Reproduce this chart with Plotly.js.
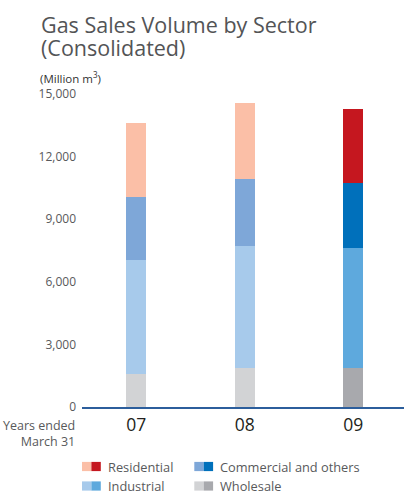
<!DOCTYPE html>
<html>
<head>
<meta charset="utf-8">
<script src="https://cdn.plot.ly/plotly-3.0.1.min.js"></script>
<style>
  html, body { margin: 0; padding: 0; background: #ffffff; }
  #chart { width: 404px; height: 492px; }
</style>
</head>
<body>
<div id="chart"></div>
<script>
// Gas sales volume by sector, million m3, fiscal years ended March 31
const years = ['07', '08', '09'];
const wholesale   = [1590, 1880, 1880];
const industrial  = [5460, 5840, 5740];
const commercial  = [3010, 3200, 3110];
const residential = [3540, 3640, 3540];

// light shade for earlier years, strong shade for the latest year
const lightColors = { Residential: '#FBBFA7', 'Commercial and others': '#7EA7D8', Industrial: '#A7CAEB', Wholesale: '#D2D3D5' };
const darkColors  = { Residential: '#C5171F', 'Commercial and others': '#0070BB', Industrial: '#5EA9DD', Wholesale: '#A8A9AD' };

const yTicks = [0, 3000, 6000, 9000, 12000, 15000];

const FONT = '"Open Sans", "Noto Sans", sans-serif';
const GREY = '#58595B';

// plot area in pixels
const L = 82, R = 0, T = 94, B = 85, W = 404, H = 492;
const PW = W - L - R, PH = H - T - B;
const px = x => (x - L) / PW;
const py = y => (H - B - y) / PH;

function colorsFor(name) {
  return years.map((y, i) => (i === years.length - 1 ? darkColors[name] : lightColors[name]));
}

function barTrace(name, values) {
  return {
    type: 'bar',
    name: name,
    x: years,
    y: values,
    width: 0.184,
    marker: { color: colorsFor(name), line: { width: 0 } },
    hoverinfo: 'skip',
    showlegend: false
  };
}

const traces = [
  barTrace('Wholesale', wholesale),
  barTrace('Industrial', industrial),
  barTrace('Commercial and others', commercial),
  barTrace('Residential', residential)
];

// two-tone legend swatches drawn as shapes, labels as annotations
const legendItems = [
  { name: 'Residential', x: 82, y: 466.5 },
  { name: 'Commercial and others', x: 194.3, y: 466.5 },
  { name: 'Industrial', x: 82, y: 486 },
  { name: 'Wholesale', x: 194.3, y: 486 }
];
const shapes = [];
const annotations = [];
legendItems.forEach(it => {
  const s = 9.4, h = 9.2;
  shapes.push({ type: 'rect', xref: 'paper', yref: 'paper',
    x0: px(it.x), x1: px(it.x + s), y0: py(it.y + h / 2), y1: py(it.y - h / 2),
    fillcolor: lightColors[it.name], line: { width: 0 } });
  shapes.push({ type: 'rect', xref: 'paper', yref: 'paper',
    x0: px(it.x + s), x1: px(it.x + 2 * s), y0: py(it.y + h / 2), y1: py(it.y - h / 2),
    fillcolor: darkColors[it.name], line: { width: 0 } });
  annotations.push({ xref: 'paper', yref: 'paper', x: px(it.x + 2 * s + 5), y: py(it.y),
    xanchor: 'left', yanchor: 'middle', showarrow: false, text: it.name,
    font: { family: FONT, size: 12.8, color: GREY } });
});

// title lines, unit label and x-axis caption
annotations.push(
  { xref: 'paper', yref: 'paper', x: px(39), y: py(24.5), xanchor: 'left', yanchor: 'middle',
    showarrow: false, text: 'Gas Sales Volume by Sector', font: { family: FONT, size: 21.5, color: '#535456' } },
  { xref: 'paper', yref: 'paper', x: px(39), y: py(47.5), xanchor: 'left', yanchor: 'middle',
    showarrow: false, text: '(Consolidated)', font: { family: FONT, size: 21.5, color: '#535456' } },
  { xref: 'paper', yref: 'paper', x: px(38), y: py(77), xanchor: 'left', yanchor: 'middle',
    showarrow: false, text: '(Million m<sup>3</sup>)', font: { family: FONT, size: 11.5, color: '#333333' } },
  { xref: 'paper', yref: 'paper', x: px(77), y: py(433.5), xanchor: 'right', yanchor: 'middle', align: 'right',
    showarrow: false, text: 'Years ended<br>March 31', font: { family: FONT, size: 12.5, color: GREY } }
);

const layout = {
  width: W, height: H,
  margin: { l: L, r: R, t: T, b: B, pad: 0 },
  paper_bgcolor: '#ffffff', plot_bgcolor: '#ffffff',
  barmode: 'stack',
  showlegend: false,
  font: { family: FONT, color: GREY },
  xaxis: {
    type: 'category',
    range: [-0.5, 2.468],
    showline: true, linecolor: '#2C5E9C', linewidth: 2,
    showgrid: false, zeroline: false, ticks: '',
    ticklabelstandoff: 1,
    tickfont: { family: FONT, size: 17.5, color: '#231F20' },
    fixedrange: true
  },
  yaxis: {
    range: [0, 15000],
    tickvals: yTicks,
    tickformat: ',',
    showline: false, showgrid: false, zeroline: false, ticks: '',
    ticklabelstandoff: 5,
    tickfont: { family: FONT, size: 12, color: GREY },
    fixedrange: true
  },
  shapes: shapes,
  annotations: annotations
};

Plotly.newPlot('chart', traces, layout, { displayModeBar: false, staticPlot: true });
</script>
</body>
</html>
